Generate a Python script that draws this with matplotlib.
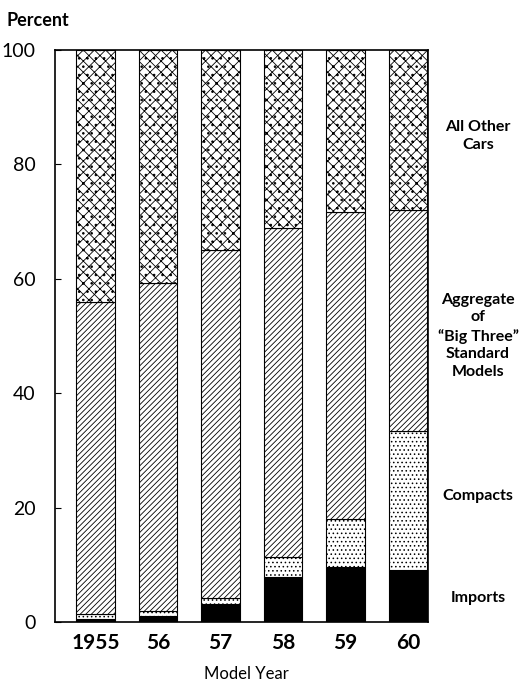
import numpy as np
import matplotlib.pyplot as plt

plt.rcParams['font.family'] = ['Lato', 'DejaVu Sans']
plt.rcParams['hatch.linewidth'] = 0.6

years = ['1955', '56', '57', '58', '59', '60']
imports = [0.5, 1.1, 3.2, 7.9, 9.7, 9.1]
compacts = [0.9, 0.9, 1.0, 3.5, 8.3, 24.3]
big_three = [54.6, 57.3, 60.9, 57.4, 53.6, 38.6]
all_other = [44.0, 40.7, 34.9, 31.2, 28.4, 28.0]

series = [
    ('Imports', imports, 'black', ''),
    ('Compacts', compacts, 'white', '....'),
    ('Big Three', big_three, 'white', '//////'),
    ('All Other', all_other, 'white', 'xxx..'),
]
label_pos = [4.2, 22.0, 50.0, 85.0]
label_txt = ['Imports', 'Compacts',
             'Aggregate\nof\n\u201cBig Three\u201d\nStandard\nModels',
             'All Other\nCars']

fig = plt.figure(figsize=(5.25, 6.84), dpi=100)
ax = fig.add_axes([0.1048, 0.0906, 0.7105, 0.8364])

x = np.arange(len(years))
bottom = np.zeros(len(years))
for name, vals, fc, hatch in series:
    ax.bar(x, vals, width=0.62, bottom=bottom, color=fc, edgecolor='black',
           hatch=hatch, linewidth=0.8)
    bottom += np.array(vals)

ax.set_xlim(-0.65, 5.32)
ax.set_ylim(0, 100)
ax.set_yticks([0, 20, 40, 60, 80, 100])
ax.tick_params(axis='y', direction='in', length=4, labelsize=14, pad=14)
ax.set_xticks(x)
ax.set_xticklabels(years, fontsize=15, fontweight='bold')
ax.tick_params(axis='x', length=0, pad=8)
for s in ax.spines.values():
    s.set_linewidth(1.2)

for y, t in zip(label_pos, label_txt):
    ax.text(1.134, y, t, transform=ax.get_yaxis_transform(), ha='center',
            va='center', fontsize=11.5, fontweight='bold', linespacing=1.35)

fig.text(0.013, 0.97, 'Percent', fontsize=13, fontweight='bold', va='center')
fig.text(0.47, 0.015, 'Model Year', fontsize=12, ha='center', va='center')

fig.savefig('out.png', dpi=100)
